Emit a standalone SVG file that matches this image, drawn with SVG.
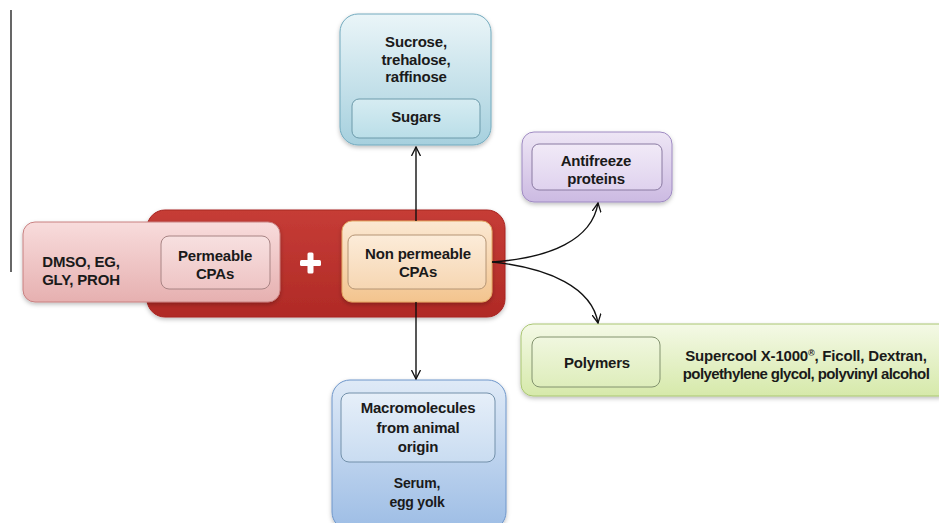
<svg xmlns="http://www.w3.org/2000/svg" width="939" height="523" viewBox="0 0 939 523">
<defs>
<linearGradient id="gRed" x1="0" y1="0" x2="0" y2="1"><stop offset="0" stop-color="#c63c36"/><stop offset="1" stop-color="#b02a26"/></linearGradient>
<linearGradient id="gPink" x1="0" y1="0" x2="0" y2="1"><stop offset="0" stop-color="#f8dcdc"/><stop offset="1" stop-color="#e6b0b0"/></linearGradient>
<linearGradient id="gPinkIn" x1="0" y1="0" x2="0" y2="1"><stop offset="0" stop-color="#f7e0e0"/><stop offset="1" stop-color="#eec4c4"/></linearGradient>
<linearGradient id="gOr" x1="0" y1="0" x2="0" y2="1"><stop offset="0" stop-color="#fbe8d2"/><stop offset="1" stop-color="#f3c48e"/></linearGradient>
<linearGradient id="gOrIn" x1="0" y1="0" x2="0" y2="1"><stop offset="0" stop-color="#fcecd9"/><stop offset="1" stop-color="#f6d6b2"/></linearGradient>
<linearGradient id="gCyan" x1="0" y1="0" x2="0" y2="1"><stop offset="0" stop-color="#eaf5f8"/><stop offset="1" stop-color="#a6d0de"/></linearGradient>
<linearGradient id="gCyanIn" x1="0" y1="0" x2="0" y2="1"><stop offset="0" stop-color="#d6ecf2"/><stop offset="1" stop-color="#badee8"/></linearGradient>
<linearGradient id="gPur" x1="0" y1="0" x2="0" y2="1"><stop offset="0" stop-color="#eee6f5"/><stop offset="1" stop-color="#ccbae2"/></linearGradient>
<linearGradient id="gPurIn" x1="0" y1="0" x2="0" y2="1"><stop offset="0" stop-color="#f1eaf7"/><stop offset="1" stop-color="#dfd2ee"/></linearGradient>
<linearGradient id="gGrn" x1="0" y1="0" x2="0" y2="1"><stop offset="0" stop-color="#f4f9e6"/><stop offset="1" stop-color="#d6e9aa"/></linearGradient>
<linearGradient id="gGrnIn" x1="0" y1="0" x2="0" y2="1"><stop offset="0" stop-color="#f0f7df"/><stop offset="1" stop-color="#deedbb"/></linearGradient>
<linearGradient id="gBlue" x1="0" y1="0" x2="0" y2="1"><stop offset="0" stop-color="#dfeaf7"/><stop offset="1" stop-color="#9dbde5"/></linearGradient>
<linearGradient id="gBlueIn" x1="0" y1="0" x2="0" y2="1"><stop offset="0" stop-color="#e6eff9"/><stop offset="1" stop-color="#c9dcf1"/></linearGradient>
<filter id="sh" x="-10%" y="-10%" width="120%" height="130%"><feDropShadow dx="0" dy="2" stdDeviation="2" flood-color="#000" flood-opacity="0.25"/></filter>
<marker id="arr" viewBox="0 0 10 10" refX="9" refY="5" markerWidth="10" markerHeight="10" markerUnits="userSpaceOnUse" orient="auto"><path d="M0,0.5 L9,5 L0,9.5" fill="none" stroke="#111" stroke-width="1.3"/></marker>
</defs>
<style>
text{font-family:"Liberation Sans",Arial,sans-serif;font-size:15px;font-weight:bold;fill:#1a1a1a;text-anchor:middle;letter-spacing:-0.2px}
.c{fill:none;stroke:#111;stroke-width:1.4}
.o{filter:url(#sh)}
</style>
<line x1="11" y1="10" x2="11" y2="272" stroke="#000" stroke-width="1.2"/>
<g id="core">
<rect class="o" x="147" y="210" width="358" height="107" rx="18" fill="url(#gRed)" stroke="#a82420" stroke-width="1"/>
<rect x="300" y="260" width="21" height="6" rx="1.5" fill="#fff"/>
<rect x="307.5" y="252.5" width="6" height="21" rx="1.5" fill="#fff"/>
</g>
<g id="permeable">
<rect class="o" x="23" y="222" width="257" height="80" rx="12" fill="url(#gPink)" stroke="#c88080" stroke-width="1"/>
<rect x="161" y="236" width="109" height="53" rx="8" fill="url(#gPinkIn)" stroke="#a88484" stroke-width="1"/>
<text x="81" y="267">DMSO, EG,</text><text x="81" y="285">GLY, PROH</text>
<text x="215" y="261">Permeable</text><text x="215" y="279">CPAs</text>
</g>
<g id="nonpermeable">
<rect class="o" x="342" y="221" width="150" height="81" rx="10" fill="url(#gOr)" stroke="#e4a864" stroke-width="1"/>
<rect x="348" y="235" width="138" height="54" rx="7" fill="url(#gOrIn)" stroke="#b49474" stroke-width="1"/>
<text x="418" y="259">Non permeable</text><text x="418" y="277">CPAs</text>
</g>
<g id="sugars">
<rect class="o" x="340" y="14" width="151" height="131" rx="18" fill="url(#gCyan)" stroke="#72aabe" stroke-width="1"/>
<rect x="352" y="99" width="128" height="39" rx="7" fill="url(#gCyanIn)" stroke="#6c9aaa" stroke-width="1"/>
<text x="416" y="47">Sucrose,</text><text x="416" y="65">trehalose,</text><text x="416" y="82">raffinose</text>
<text x="416" y="122">Sugars</text>
</g>
<g id="antifreeze">
<rect class="o" x="522" y="132" width="150" height="70" rx="12" fill="url(#gPur)" stroke="#9e8ac2" stroke-width="1"/>
<rect x="532" y="144" width="130" height="46" rx="7" fill="url(#gPurIn)" stroke="#8a7aa2" stroke-width="1"/>
<text x="596" y="166">Antifreeze</text><text x="596" y="184">proteins</text>
</g>
<g id="polymers">
<rect class="o" x="521" y="324" width="430" height="72" rx="12" fill="url(#gGrn)" stroke="#aac672" stroke-width="1"/>
<rect x="532" y="337" width="128" height="50" rx="8" fill="url(#gGrnIn)" stroke="#82926e" stroke-width="1"/>
<text x="597" y="368">Polymers</text>
<text x="806" y="361">Supercool  X-1000<tspan dy="-5" style="font-size:9px">®</tspan><tspan dy="5">, Ficoll, Dextran,</tspan></text>
<text x="806" y="379" style="letter-spacing:-0.6px">polyethylene glycol, polyvinyl alcohol</text>
</g>
<g id="macromolecules">
<rect class="o" x="332" y="380" width="174" height="150" rx="18" fill="url(#gBlue)" stroke="#6e96ca" stroke-width="1"/>
<rect x="341" y="393" width="154" height="69" rx="8" fill="url(#gBlueIn)" stroke="#7290aa" stroke-width="1"/>
<text x="418" y="413">Macromolecules</text><text x="418" y="433">from animal</text><text x="418" y="452">origin</text>
<text x="417" y="488" style="font-size:14px">Serum,</text><text x="417" y="507" style="font-size:14px">egg yolk</text>
</g>
<g id="connectors">
<path class="c" d="M416,221 L416,147" marker-end="url(#arr)"/>
<path class="c" d="M416,302 L416,379" marker-end="url(#arr)"/>
<path class="c" d="M492,262 C550,258 592,240 598,203" marker-end="url(#arr)"/>
<path class="c" d="M492,262 C550,268 592,288 598,323" marker-end="url(#arr)"/>
</g>
</svg>
